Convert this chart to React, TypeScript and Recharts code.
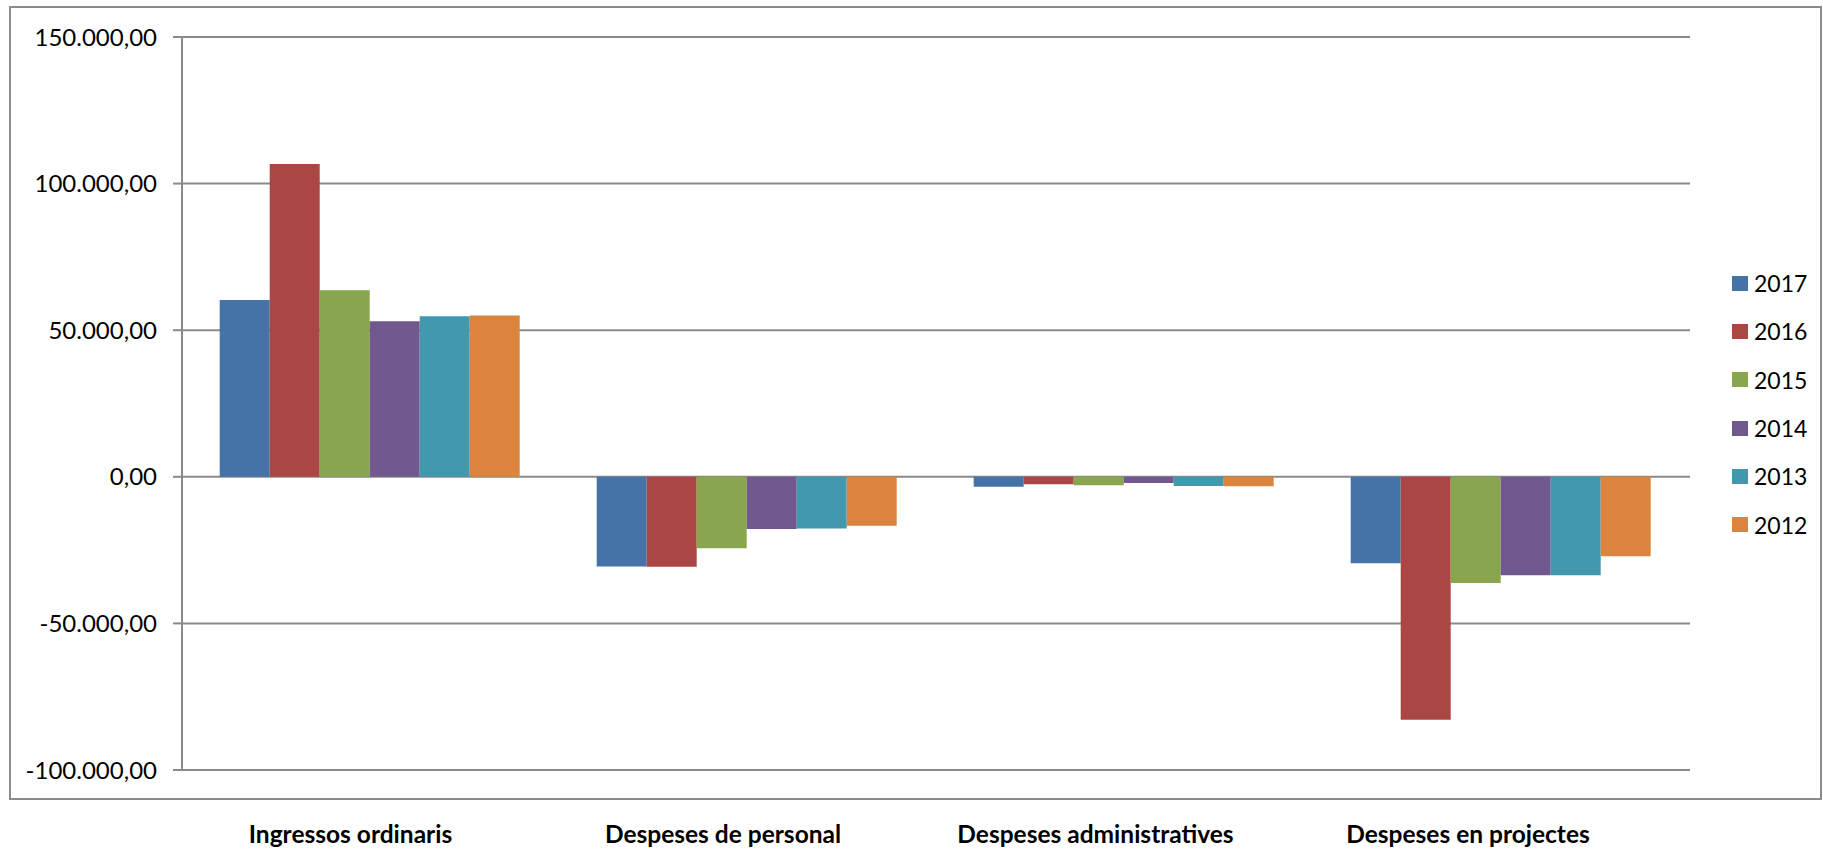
import { BarChart, Bar, XAxis, YAxis, CartesianGrid, Legend } from "recharts";

const categories = ["Ingressos ordinaris", "Despeses de personal", "Despeses administratives", "Despeses en projectes"];
const years = ["2017", "2016", "2015", "2014", "2013", "2012"];
const colors = ["#4572A7", "#AA4643", "#89A54E", "#71588F", "#4198AF", "#DB843D"];

const values2017 = [60340, -30600, -3400, -29500];
const values2016 = [106700, -30700, -2500, -82900];
const values2015 = [63600, -24400, -2850, -36200];
const values2014 = [53060, -17800, -2150, -33600];
const values2013 = [54760, -17600, -3100, -33600];
const values2012 = [55000, -16700, -3200, -27100];

const yTicks = [-100000, -50000, 0, 50000, 100000, 150000];

const seriesValues = [values2017, values2016, values2015, values2014, values2013, values2012];

const data = categories.map((name, i) => {
  const row: Record<string, string | number> = { name };
  years.forEach((y, s) => {
    row[y] = seriesValues[s][i];
  });
  return row;
});

// 150000 -> "150.000,00"
function formatEs(v: number) {
  const [intPart, dec] = Math.abs(v).toFixed(2).split(".");
  const grouped = intPart.replace(/\B(?=(\d{3})+(?!\d))/g, ".");
  return (v < 0 ? "-" : "") + grouped + "," + dec;
}

const gridColor = "#8a8a8a";
const font = "Lato, 'Open Sans', sans-serif";

function CategoryTick(props: any) {
  const { x, y, payload, index } = props;
  // Excel places these labels a bit left of the group centres
  const shift = -20 - 4.5 * index;
  return (
    <text x={x + shift} y={y + 73} textAnchor="middle" fontFamily={font} fontWeight={700} fontSize={24.5} fill="#000">
      {payload.value}
    </text>
  );
}

function LegendBox(props: any) {
  const items = [...props.payload].sort((a: any, b: any) => years.indexOf(a.value) - years.indexOf(b.value));
  return (
    <div style={{ fontFamily: font, fontSize: 23, color: "#000" }}>
      {items.map((entry: any) => (
        <div key={entry.value} style={{ display: "flex", alignItems: "center", height: 48.3 }}>
          <span style={{ display: "inline-block", width: 16, height: 15, background: entry.color, marginRight: 6 }} />
          <span>{entry.value}</span>
        </div>
      ))}
    </div>
  );
}

export default function App() {
  return (
    <div style={{ position: "fixed", left: 0, top: 0, width: 1823, height: 853, background: "#fff" }}>
      <div
        style={{
          position: "absolute",
          left: 9,
          top: 6,
          width: 1813,
          height: 794,
          border: "2px solid #8c8c8c",
          boxSizing: "border-box",
        }}
      />
      <BarChart
        width={1823}
        height={853}
        data={data}
        margin={{ top: 37, right: 133, left: 0, bottom: 23 }}
        barCategoryGap="10%"
        barGap={0}
        style={{ position: "absolute", left: 0, top: 0 }}
      >
        <CartesianGrid vertical={false} stroke={gridColor} strokeWidth={2} />
        <XAxis
          dataKey="name"
          height={60}
          axisLine={false}
          tickLine={false}
          tickSize={0}
          tickMargin={0}
          interval={0}
          tick={<CategoryTick />}
        />
        <YAxis
          width={182}
          domain={[-100000, 150000]}
          ticks={yTicks}
          interval={0}
          tickFormatter={formatEs}
          axisLine={{ stroke: gridColor, strokeWidth: 2 }}
          tickLine={{ stroke: gridColor, strokeWidth: 2 }}
          tickSize={9}
          tickMargin={16}
          tick={{ fontFamily: font, fontSize: 24, fill: "#000" }}
        />
        <Legend
          layout="horizontal"
          verticalAlign="middle"
          align="center"
          content={<LegendBox />}
          wrapperStyle={{ left: 1732, top: 259, width: 90 }}
        />
        {years.map((y, s) => (
          <Bar key={y} dataKey={y} name={y} fill={colors[s]} isAnimationActive={false} />
        ))}
      </BarChart>
    </div>
  );
}
